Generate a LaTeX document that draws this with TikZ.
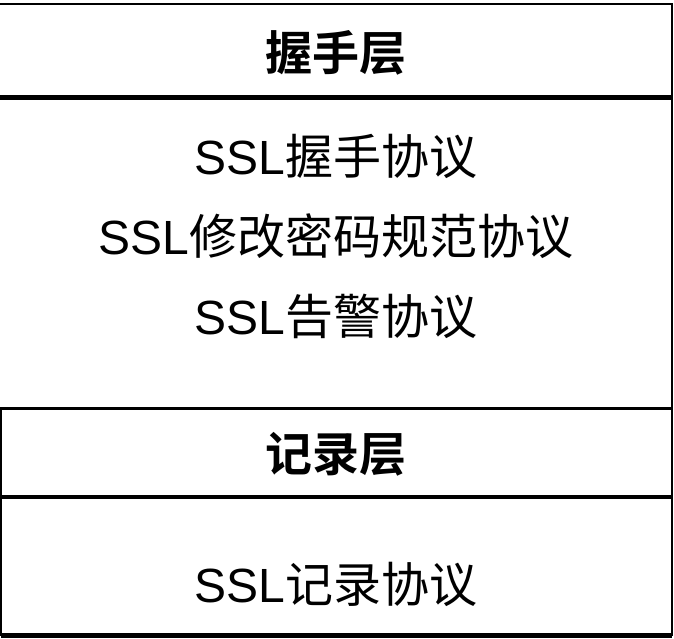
\documentclass[tikz,border=0pt]{standalone}
\usepackage{fontspec}
\setmainfont{Liberation Sans}
\newfontfamily\cjk{Noto Sans CJK SC}
\newfontfamily\cjkb{Noto Sans CJK SC Bold}
\begin{document}
\begin{tikzpicture}[x=1pt,y=-1pt,
  layerbox/.style={draw=black,line width=2.2pt},
  titletext/.style={font=\fontsize{47}{50}\selectfont\cjkb},
  bodytext/.style={font=\fontsize{48}{52}\selectfont},
]
\useasboundingbox (0,0) rectangle (674,638);
\fill[white] (0,0) rectangle (674,638);
\draw[layerbox] (-1.5,4) rectangle (671.8,96.3);
\draw[layerbox] (-1.5,98.5) rectangle (671.8,408.5);
\draw[layerbox] (0.9,408.5) rectangle (671.8,496);
\draw[layerbox] (0.9,498.3) rectangle (672.2,634.5);
\draw[line width=1.2pt] (0.9,637) -- (672.2,637);
\node[titletext] (t1) at (336,53) {握手层};
\node[bodytext] (b1) at (336,156) {SSL{\cjk 握手协议}};
\node[bodytext] (b2) at (336,236) {SSL{\cjk 修改密码规范协议}};
\node[bodytext] (b3) at (336,316) {SSL{\cjk 告警协议}};
\node[titletext] (t2) at (336,454) {记录层};
\node[bodytext] (b4) at (336,584) {SSL{\cjk 记录协议}};
\end{tikzpicture}
\end{document}
